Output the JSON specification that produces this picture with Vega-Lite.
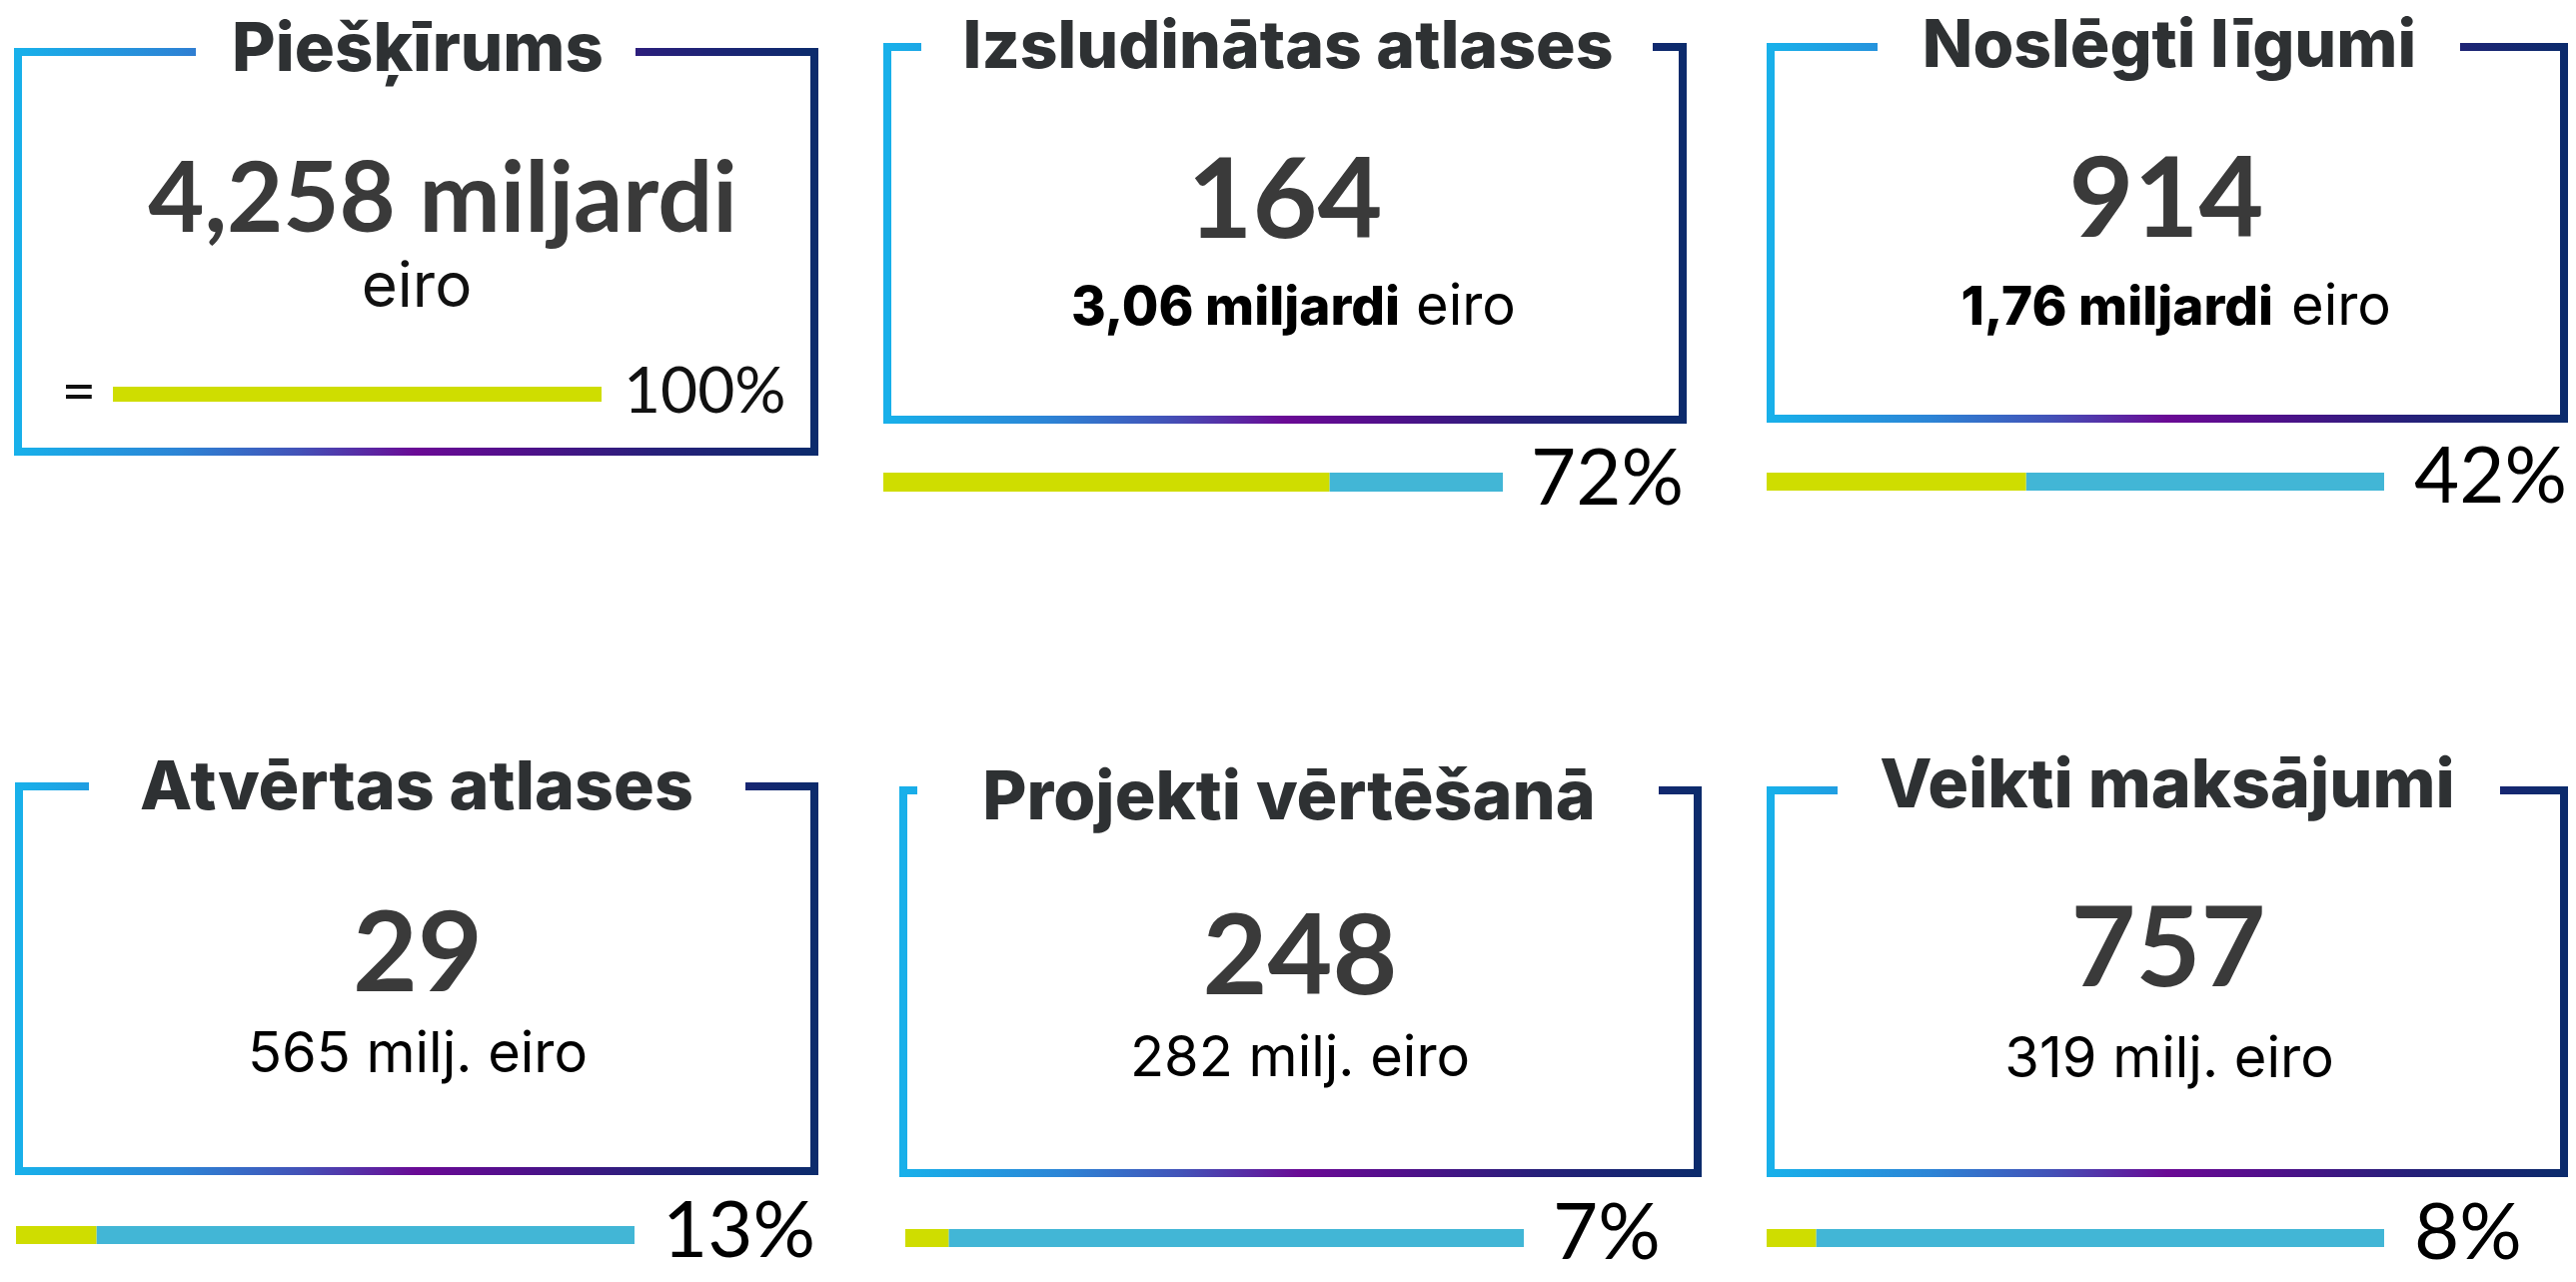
{
 "$schema": "https://vega.github.io/schema/vega-lite/v6.json",
 "padding": 0,
 "background": "#ffffff",
 "spacing": 0,
 "config": {"view": {"stroke": null}, "concat": {"spacing": 0}, "text": {"font": "Lato"}},
 "data": {"values": [
  {"id": "piesk", "title": "Piešķīrums", "headline": "4,258 miljardi", "unit": "eiro", "share": 1, "total": 1},
  {"id": "izsl", "title": "Izsludinātas atlases", "count": 164, "amount": "3,06 miljardi", "unit": "eiro", "share": 0.72, "total": 1},
  {"id": "nosl", "title": "Noslēgti līgumi", "count": 914, "amount": "1,76 miljardi", "unit": "eiro", "share": 0.42, "total": 1},
  {"id": "atv", "title": "Atvērtas atlases", "count": 29, "amount": "565 milj. eiro", "share": 0.13, "total": 1},
  {"id": "proj", "title": "Projekti vērtēšanā", "count": 248, "amount": "282 milj. eiro", "share": 0.07, "total": 1},
  {"id": "veikti", "title": "Veikti maksājumi", "count": 757, "amount": "319 milj. eiro", "share": 0.08, "total": 1}
 ]},
 "vconcat": [
  {"spacing": 0, "hconcat": [
   {"width": 870, "height": 740, "transform": [{"filter": "datum.id === 'piesk'"}], "layer": [
    {"mark": {"type": "rect", "fill": "transparent", "strokeWidth": 8, "stroke": {"gradient": "linear", "x1": 0, "y1": 0, "x2": 1, "y2": 0, "stops": [{"offset": 0, "color": "#18b0ea"}, {"offset": 0.2, "color": "#2c85d6"}, {"offset": 0.35, "color": "#4253b8"}, {"offset": 0.5, "color": "#6a0a95"}, {"offset": 0.62, "color": "#530f8c"}, {"offset": 0.8, "color": "#27207a"}, {"offset": 1, "color": "#0c2b6c"}]}},
     "encoding": {"x": {"value": 18}, "x2": {"value": 815}, "y": {"value": 52}, "y2": {"value": 452}}},
    {"mark": {"type": "rect", "fill": "#ffffff"}, "encoding": {"x": {"value": 196}, "x2": {"value": 636}, "y": {"value": 40}, "y2": {"value": 64}}},
    {"mark": {"type": "text", "font": "Inter", "fontWeight": 800, "fontSize": 67, "fill": "#2e3133", "align": "center", "baseline": "alphabetic"},
     "encoding": {"text": {"field": "title"}, "x": {"value": 418}, "y": {"value": 71}}},
    {"mark": {"type": "text", "font": "Lato", "fontWeight": "bold", "fontSize": 97, "fill": "#3a3a3a", "align": "center", "baseline": "alphabetic"},
     "encoding": {"text": {"field": "headline"}, "x": {"value": 443}, "y": {"value": 232}}},
    {"mark": {"type": "text", "font": "Inter", "fontSize": 62, "fill": "#111111", "align": "center", "baseline": "alphabetic"},
     "encoding": {"text": {"field": "unit"}, "x": {"value": 417}, "y": {"value": 307}}},
    {"mark": {"type": "text", "text": "=", "font": "Lato", "fontSize": 60, "fill": "#111111", "align": "center", "baseline": "alphabetic"},
     "encoding": {"x": {"value": 79}, "y": {"value": 412}}},
    {"mark": {"type": "rect", "fill": "#cfdd00"},
     "encoding": {"x": {"field": "share", "type": "quantitative", "scale": {"domain": [0, 1], "range": [113, 602], "nice": false}, "axis": null}, "x2": {"value": 113}, "y": {"value": 387}, "y2": {"value": 402}}},
    {"mark": {"type": "text", "font": "Lato", "fontWeight": 400, "fontSize": 64, "fill": "#111111", "align": "left", "baseline": "alphabetic", "dx": 22},
     "encoding": {"x": {"field": "total", "type": "quantitative"}, "y": {"value": 413}, "text": {"field": "share", "type": "quantitative", "format": ".0%"}}}
   ]},
   {"width": 884, "height": 740, "transform": [{"filter": "datum.id === 'izsl'"}], "layer": [
    {"mark": {"type": "rect", "fill": "transparent", "strokeWidth": 8, "stroke": {"gradient": "linear", "x1": 0, "y1": 0, "x2": 1, "y2": 0, "stops": [{"offset": 0, "color": "#18b0ea"}, {"offset": 0.2, "color": "#2c85d6"}, {"offset": 0.35, "color": "#4253b8"}, {"offset": 0.5, "color": "#6a0a95"}, {"offset": 0.62, "color": "#530f8c"}, {"offset": 0.8, "color": "#27207a"}, {"offset": 1, "color": "#0c2b6c"}]}},
     "encoding": {"x": {"value": 18}, "x2": {"value": 814}, "y": {"value": 47}, "y2": {"value": 420}}},
    {"mark": {"type": "rect", "fill": "#ffffff"}, "encoding": {"x": {"value": 52}, "x2": {"value": 784}, "y": {"value": 35}, "y2": {"value": 60}}},
    {"mark": {"type": "text", "font": "Inter", "fontWeight": 800, "fontSize": 66, "fill": "#2e3133", "align": "center", "baseline": "alphabetic"},
     "encoding": {"text": {"field": "title"}, "x": {"value": 419}, "y": {"value": 68}}},
    {"mark": {"type": "text", "font": "Lato", "fontWeight": "bold", "fontSize": 112, "fill": "#3a3a3a", "align": "center", "baseline": "alphabetic"},
     "encoding": {"text": {"field": "count", "type": "quantitative", "format": "d"}, "x": {"value": 416}, "y": {"value": 238}}},
    {"mark": {"type": "text", "font": "Inter", "fontWeight": 800, "fontSize": 53, "fill": "#000000", "align": "right", "baseline": "alphabetic"},
     "encoding": {"text": {"field": "amount"}, "x": {"value": 531}, "y": {"value": 325}}},
    {"mark": {"type": "text", "font": "Inter", "fontSize": 56, "fill": "#000000", "align": "left", "baseline": "alphabetic"},
     "encoding": {"text": {"field": "unit"}, "x": {"value": 547}, "y": {"value": 325}}},
    {"mark": {"type": "rect", "fill": "#42b6d6"},
     "encoding": {"x": {"field": "share", "type": "quantitative", "scale": {"domain": [0, 1], "range": [14, 634], "nice": false}, "axis": null}, "x2": {"field": "total"}, "y": {"value": 473}, "y2": {"value": 492}}},
    {"mark": {"type": "rect", "fill": "#cfdd00"},
     "encoding": {"x": {"field": "share", "type": "quantitative"}, "x2": {"value": 14}, "y": {"value": 473}, "y2": {"value": 492}}},
    {"mark": {"type": "text", "font": "Lato", "fontWeight": 400, "fontSize": 78, "fill": "#000000", "align": "left", "baseline": "alphabetic", "dx": 28},
     "encoding": {"x": {"field": "total", "type": "quantitative"}, "y": {"value": 505}, "text": {"field": "share", "type": "quantitative", "format": ".0%"}}}
   ]},
   {"width": 824, "height": 740, "transform": [{"filter": "datum.id === 'nosl'"}], "layer": [
    {"mark": {"type": "rect", "fill": "transparent", "strokeWidth": 8, "stroke": {"gradient": "linear", "x1": 0, "y1": 0, "x2": 1, "y2": 0, "stops": [{"offset": 0, "color": "#18b0ea"}, {"offset": 0.2, "color": "#2c85d6"}, {"offset": 0.35, "color": "#4253b8"}, {"offset": 0.5, "color": "#6a0a95"}, {"offset": 0.62, "color": "#530f8c"}, {"offset": 0.8, "color": "#27207a"}, {"offset": 1, "color": "#0c2b6c"}]}},
     "encoding": {"x": {"value": 18}, "x2": {"value": 812}, "y": {"value": 47}, "y2": {"value": 419}}},
    {"mark": {"type": "rect", "fill": "#ffffff"}, "encoding": {"x": {"value": 125}, "x2": {"value": 708}, "y": {"value": 35}, "y2": {"value": 59}}},
    {"mark": {"type": "text", "font": "Inter", "fontWeight": 800, "fontSize": 66, "fill": "#2e3133", "align": "center", "baseline": "alphabetic"},
     "encoding": {"text": {"field": "title"}, "x": {"value": 417}, "y": {"value": 67}}},
    {"mark": {"type": "text", "font": "Lato", "fontWeight": "bold", "fontSize": 112, "fill": "#3a3a3a", "align": "center", "baseline": "alphabetic"},
     "encoding": {"text": {"field": "count", "type": "quantitative", "format": "d"}, "x": {"value": 414}, "y": {"value": 237}}},
    {"mark": {"type": "text", "font": "Inter", "fontWeight": 800, "fontSize": 53, "fill": "#000000", "align": "right", "baseline": "alphabetic"},
     "encoding": {"text": {"field": "amount"}, "x": {"value": 521}, "y": {"value": 325}}},
    {"mark": {"type": "text", "font": "Inter", "fontSize": 56, "fill": "#000000", "align": "left", "baseline": "alphabetic"},
     "encoding": {"text": {"field": "unit"}, "x": {"value": 539}, "y": {"value": 325}}},
    {"mark": {"type": "rect", "fill": "#42b6d6"},
     "encoding": {"x": {"field": "share", "type": "quantitative", "scale": {"domain": [0, 1], "range": [14, 632], "nice": false}, "axis": null}, "x2": {"field": "total"}, "y": {"value": 473}, "y2": {"value": 491}}},
    {"mark": {"type": "rect", "fill": "#cfdd00"},
     "encoding": {"x": {"field": "share", "type": "quantitative"}, "x2": {"value": 14}, "y": {"value": 473}, "y2": {"value": 491}}},
    {"mark": {"type": "text", "font": "Lato", "fontWeight": 400, "fontSize": 78, "fill": "#000000", "align": "left", "baseline": "alphabetic", "dx": 30},
     "encoding": {"x": {"field": "total", "type": "quantitative"}, "y": {"value": 503}, "text": {"field": "share", "type": "quantitative", "format": ".0%"}}}
   ]}
  ]},
  {"spacing": 0, "hconcat": [
   {"width": 886, "height": 543, "transform": [{"filter": "datum.id === 'atv'"}], "layer": [
    {"mark": {"type": "rect", "fill": "transparent", "strokeWidth": 8, "stroke": {"gradient": "linear", "x1": 0, "y1": 0, "x2": 1, "y2": 0, "stops": [{"offset": 0, "color": "#18b0ea"}, {"offset": 0.2, "color": "#2c85d6"}, {"offset": 0.35, "color": "#4253b8"}, {"offset": 0.5, "color": "#6a0a95"}, {"offset": 0.62, "color": "#530f8c"}, {"offset": 0.8, "color": "#27207a"}, {"offset": 1, "color": "#0c2b6c"}]}},
     "encoding": {"x": {"value": 19}, "x2": {"value": 815}, "y": {"value": 47}, "y2": {"value": 432}}},
    {"mark": {"type": "rect", "fill": "#ffffff"}, "encoding": {"x": {"value": 89}, "x2": {"value": 746}, "y": {"value": 35}, "y2": {"value": 58}}},
    {"mark": {"type": "text", "font": "Inter", "fontWeight": 800, "fontSize": 68, "fill": "#2e3133", "align": "center", "baseline": "alphabetic"},
     "encoding": {"text": {"field": "title"}, "x": {"value": 417}, "y": {"value": 70}}},
    {"mark": {"type": "text", "font": "Lato", "fontWeight": "bold", "fontSize": 112, "fill": "#3a3a3a", "align": "center", "baseline": "alphabetic"},
     "encoding": {"text": {"field": "count", "type": "quantitative", "format": "d"}, "x": {"value": 418}, "y": {"value": 252}}},
    {"mark": {"type": "text", "font": "Inter", "fontSize": 56, "fill": "#000000", "align": "center", "baseline": "alphabetic"},
     "encoding": {"text": {"field": "amount"}, "x": {"value": 418}, "y": {"value": 333}}},
    {"mark": {"type": "rect", "fill": "#42b6d6"},
     "encoding": {"x": {"field": "share", "type": "quantitative", "scale": {"domain": [0, 1], "range": [16, 635], "nice": false}, "axis": null}, "x2": {"field": "total"}, "y": {"value": 487}, "y2": {"value": 505}}},
    {"mark": {"type": "rect", "fill": "#cfdd00"},
     "encoding": {"x": {"field": "share", "type": "quantitative"}, "x2": {"value": 16}, "y": {"value": 487}, "y2": {"value": 505}}},
    {"mark": {"type": "text", "font": "Lato", "fontWeight": 400, "fontSize": 78, "fill": "#000000", "align": "left", "baseline": "alphabetic", "dx": 28},
     "encoding": {"x": {"field": "total", "type": "quantitative"}, "y": {"value": 518}, "text": {"field": "share", "type": "quantitative", "format": ".0%"}}}
   ]},
   {"width": 868, "height": 543, "transform": [{"filter": "datum.id === 'proj'"}], "layer": [
    {"mark": {"type": "rect", "fill": "transparent", "strokeWidth": 8, "stroke": {"gradient": "linear", "x1": 0, "y1": 0, "x2": 1, "y2": 0, "stops": [{"offset": 0, "color": "#18b0ea"}, {"offset": 0.2, "color": "#2c85d6"}, {"offset": 0.35, "color": "#4253b8"}, {"offset": 0.5, "color": "#6a0a95"}, {"offset": 0.62, "color": "#530f8c"}, {"offset": 0.8, "color": "#27207a"}, {"offset": 1, "color": "#0c2b6c"}]}},
     "encoding": {"x": {"value": 18}, "x2": {"value": 813}, "y": {"value": 51}, "y2": {"value": 434}}},
    {"mark": {"type": "rect", "fill": "#ffffff"}, "encoding": {"x": {"value": 32}, "x2": {"value": 774}, "y": {"value": 38}, "y2": {"value": 62}}},
    {"mark": {"type": "text", "font": "Inter", "fontWeight": 800, "fontSize": 68, "fill": "#2e3133", "align": "center", "baseline": "alphabetic"},
     "encoding": {"text": {"field": "title"}, "x": {"value": 404}, "y": {"value": 80}}},
    {"mark": {"type": "text", "font": "Lato", "fontWeight": "bold", "fontSize": 112, "fill": "#3a3a3a", "align": "center", "baseline": "alphabetic"},
     "encoding": {"text": {"field": "count", "type": "quantitative", "format": "d"}, "x": {"value": 415}, "y": {"value": 255}}},
    {"mark": {"type": "text", "font": "Inter", "fontSize": 56, "fill": "#000000", "align": "center", "baseline": "alphabetic"},
     "encoding": {"text": {"field": "amount"}, "x": {"value": 415}, "y": {"value": 337}}},
    {"mark": {"type": "rect", "fill": "#42b6d6"},
     "encoding": {"x": {"field": "share", "type": "quantitative", "scale": {"domain": [0, 1], "range": [20, 639], "nice": false}, "axis": null}, "x2": {"field": "total"}, "y": {"value": 490}, "y2": {"value": 508}}},
    {"mark": {"type": "rect", "fill": "#cfdd00"},
     "encoding": {"x": {"field": "share", "type": "quantitative"}, "x2": {"value": 20}, "y": {"value": 490}, "y2": {"value": 508}}},
    {"mark": {"type": "text", "font": "Lato", "fontWeight": 400, "fontSize": 78, "fill": "#000000", "align": "left", "baseline": "alphabetic", "dx": 29},
     "encoding": {"x": {"field": "total", "type": "quantitative"}, "y": {"value": 520}, "text": {"field": "share", "type": "quantitative", "format": ".0%"}}}
   ]},
   {"width": 824, "height": 543, "transform": [{"filter": "datum.id === 'veikti'"}], "layer": [
    {"mark": {"type": "rect", "fill": "transparent", "strokeWidth": 8, "stroke": {"gradient": "linear", "x1": 0, "y1": 0, "x2": 1, "y2": 0, "stops": [{"offset": 0, "color": "#18b0ea"}, {"offset": 0.2, "color": "#2c85d6"}, {"offset": 0.35, "color": "#4253b8"}, {"offset": 0.5, "color": "#6a0a95"}, {"offset": 0.62, "color": "#530f8c"}, {"offset": 0.8, "color": "#27207a"}, {"offset": 1, "color": "#0c2b6c"}]}},
     "encoding": {"x": {"value": 18}, "x2": {"value": 812}, "y": {"value": 51}, "y2": {"value": 434}}},
    {"mark": {"type": "rect", "fill": "#ffffff"}, "encoding": {"x": {"value": 85}, "x2": {"value": 748}, "y": {"value": 38}, "y2": {"value": 62}}},
    {"mark": {"type": "text", "font": "Inter", "fontWeight": 800, "fontSize": 68, "fill": "#2e3133", "align": "center", "baseline": "alphabetic"},
     "encoding": {"text": {"field": "title"}, "x": {"value": 415}, "y": {"value": 68}}},
    {"mark": {"type": "text", "font": "Lato", "fontWeight": "bold", "fontSize": 112, "fill": "#3a3a3a", "align": "center", "baseline": "alphabetic"},
     "encoding": {"text": {"field": "count", "type": "quantitative", "format": "d"}, "x": {"value": 416}, "y": {"value": 247}}},
    {"mark": {"type": "text", "font": "Inter", "fontSize": 56, "fill": "#000000", "align": "center", "baseline": "alphabetic"},
     "encoding": {"text": {"field": "amount"}, "x": {"value": 417}, "y": {"value": 338}}},
    {"mark": {"type": "rect", "fill": "#42b6d6"},
     "encoding": {"x": {"field": "share", "type": "quantitative", "scale": {"domain": [0, 1], "range": [14, 632], "nice": false}, "axis": null}, "x2": {"field": "total"}, "y": {"value": 490}, "y2": {"value": 508}}},
    {"mark": {"type": "rect", "fill": "#cfdd00"},
     "encoding": {"x": {"field": "share", "type": "quantitative"}, "x2": {"value": 14}, "y": {"value": 490}, "y2": {"value": 508}}},
    {"mark": {"type": "text", "font": "Lato", "fontWeight": 400, "fontSize": 78, "fill": "#000000", "align": "left", "baseline": "alphabetic", "dx": 30},
     "encoding": {"x": {"field": "total", "type": "quantitative"}, "y": {"value": 520}, "text": {"field": "share", "type": "quantitative", "format": ".0%"}}}
   ]}
  ]}
 ]
}
